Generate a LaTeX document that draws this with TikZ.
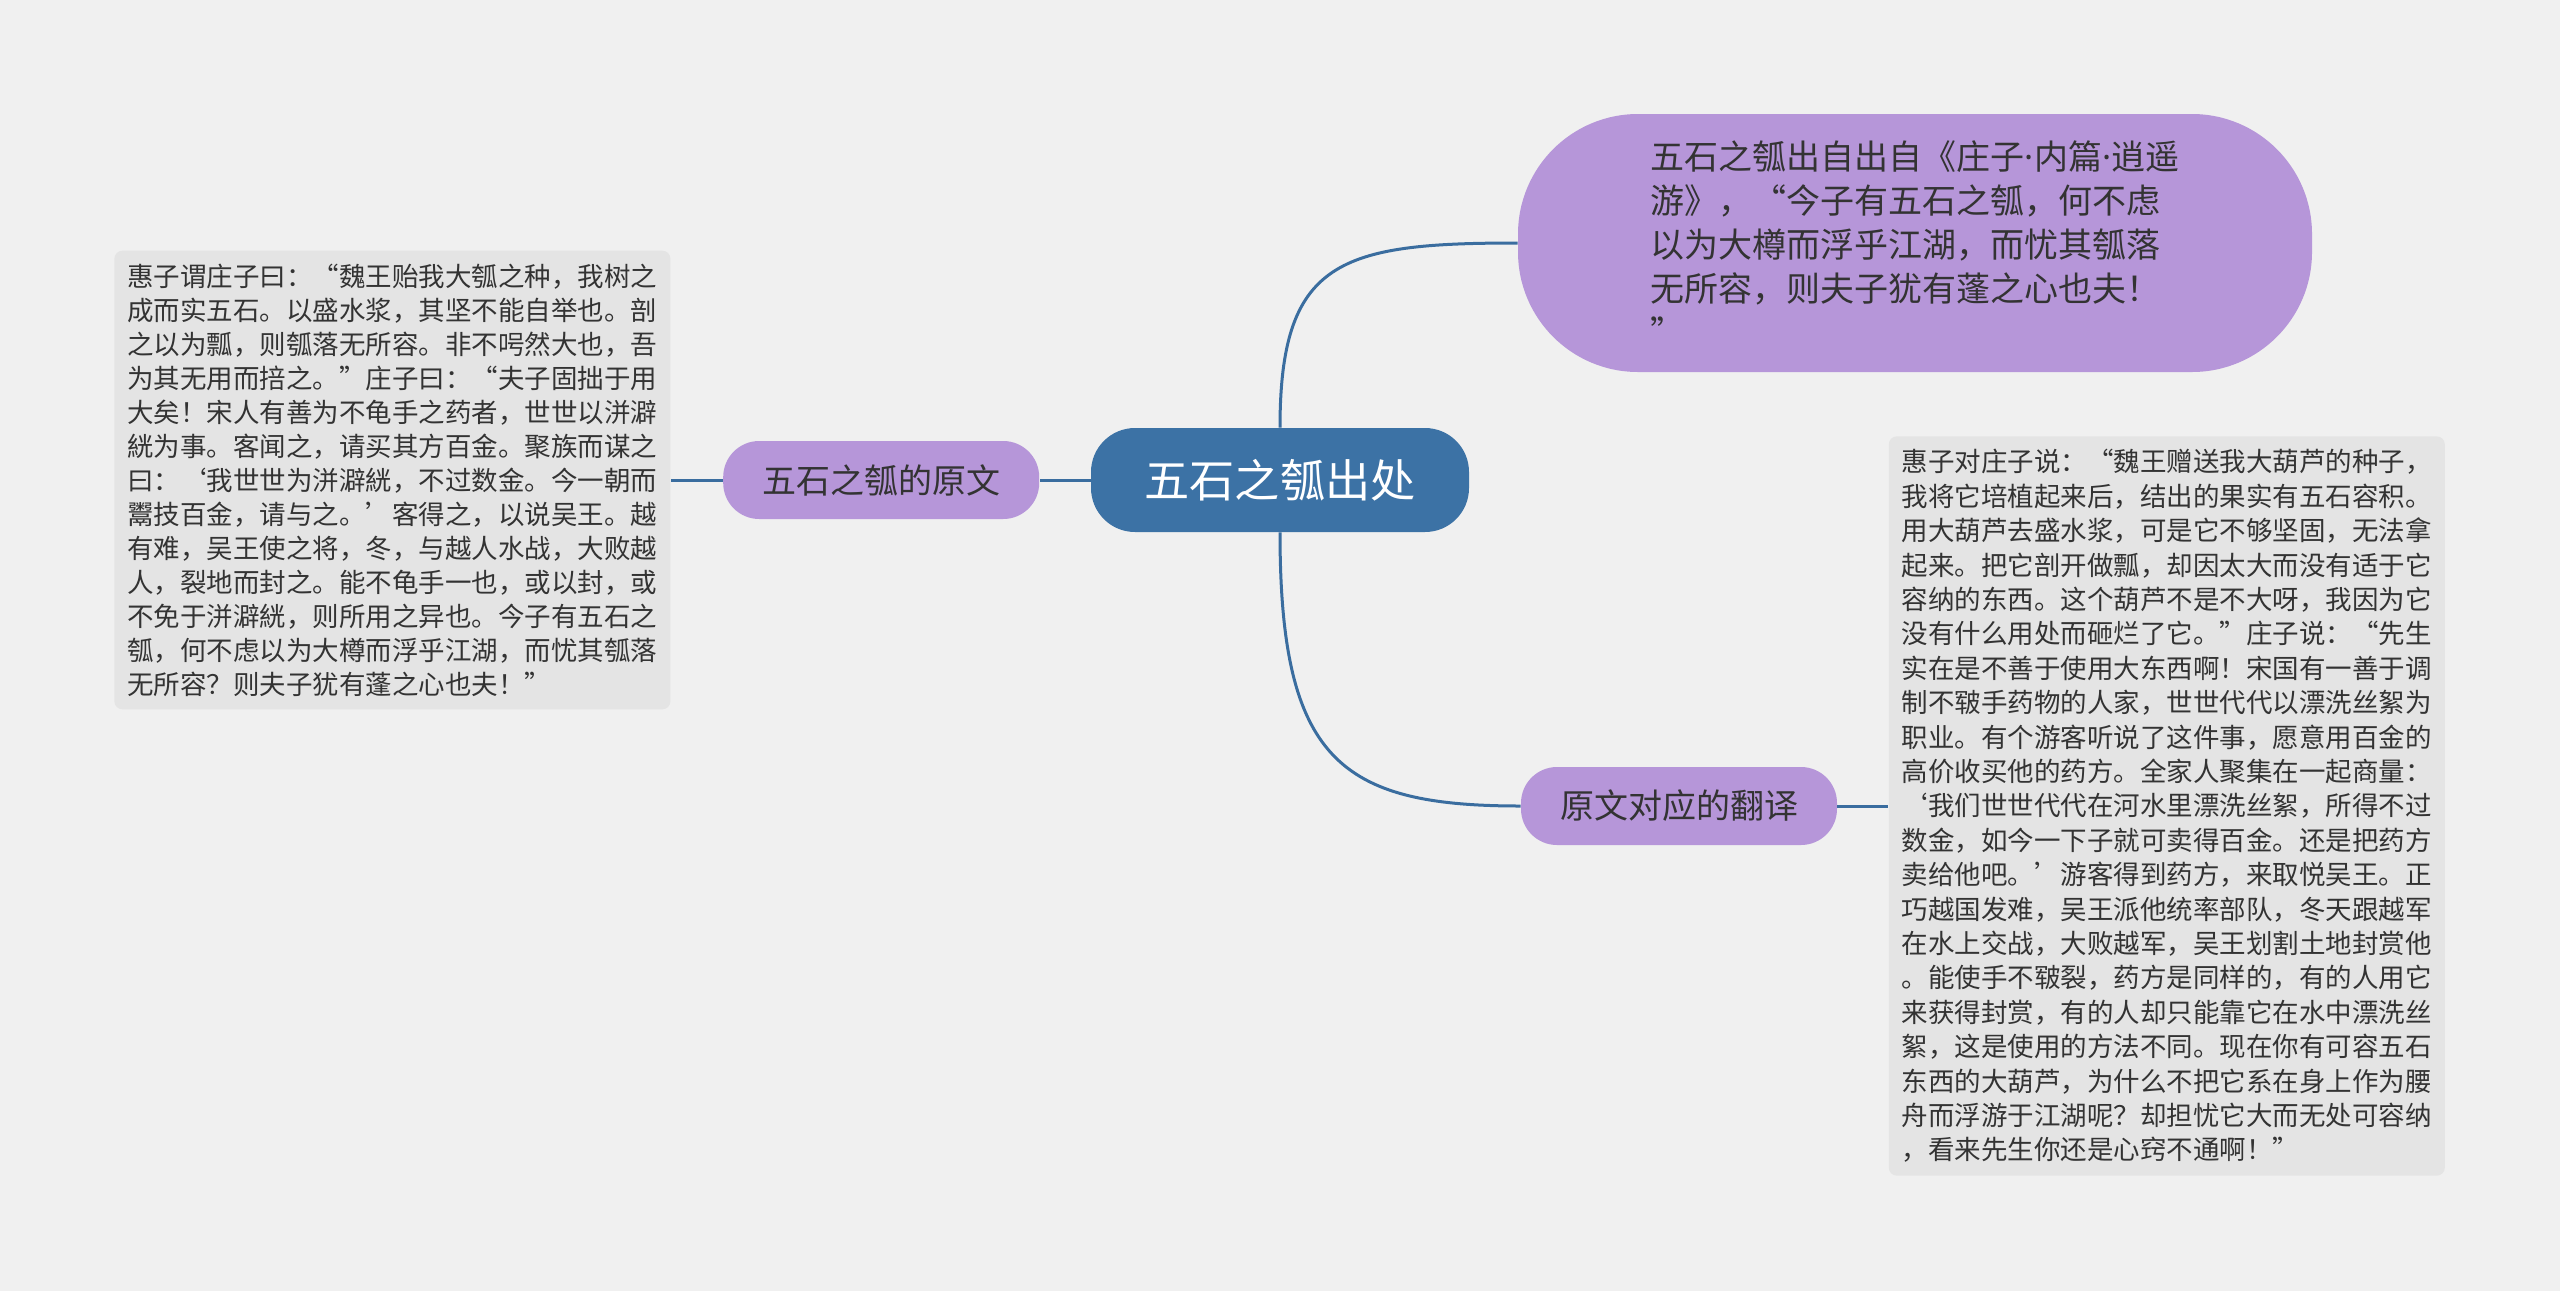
\documentclass[tikz,border=0pt]{standalone}
\usepackage{fontspec}
\newfontfamily\cjk{Noto Sans CJK SC}
\newfontfamily\latin{Noto Sans}
\usetikzlibrary{positioning}
\definecolor{bgpaper}{HTML}{F0F0F0}
\definecolor{rootblue}{HTML}{3C72A5}
\definecolor{topicpurple}{HTML}{B696D9}
\definecolor{notegray}{HTML}{E4E4E4}
\definecolor{linkblue}{HTML}{3A6D9F}
\definecolor{inktext}{HTML}{333333}
\newcommand{\mdot}{{\latin ·}}
\tikzset{link/.style={draw=linkblue, line width=1.5pt},
  root/.style={fill=rootblue, text=white, rounded corners=22pt, minimum width=189pt,
    minimum height=52pt, font=\cjk\fontsize{22.6}{28}\selectfont},
  topic/.style={fill=topicpurple, text=inktext, rounded corners=18pt, minimum width=158pt,
    minimum height=39pt, font=\cjk\fontsize{17}{22}\selectfont},
  notebox/.style={fill=notegray, text=inktext, rounded corners=4pt, inner sep=6.5pt,
    align=left, font=\cjk\fontsize{13.25}{17}\selectfont}}

\begin{document}
\begin{tikzpicture}[x=0.5pt, y=-0.5pt]
  \fill[bgpaper] (0,0) rectangle (2560,1291);
  \node[root] (root) at (1280,480) {五石之瓠出处};
  % source quote, upper right
  \node[topic, minimum width=397pt, minimum height=129pt, rounded corners=60pt, align=left]
    (src) at (1915,243) {五石之瓠出自出自《庄子\mdot 内篇\mdot 逍遥\\游》，“今子有五石之瓠，何不虑\\以为大樽而浮乎江湖，而忧其瓠落\\无所容，则夫子犹有蓬之心也夫！\\”};
  \node[topic, left=25.5pt of root] (orig) {五石之瓠的原文};
  \node[topic] (trans) at (1679,806) {原文对应的翻译};
  % original text
  \node[notebox, left=26pt of orig] (origtxt) {惠子谓庄子曰：“魏王贻我大瓠之种，我树之\\成而实五石。以盛水浆，其坚不能自举也。剖\\之以为瓢，则瓠落无所容。非不呺然大也，吾\\为其无用而掊之。”庄子曰：“夫子固拙于用\\大矣！宋人有善为不龟手之药者，世世以洴澼\\絖为事。客闻之，请买其方百金。聚族而谋之\\曰：‘我世世为洴澼絖，不过数金。今一朝而\\鬻技百金，请与之。’客得之，以说吴王。越\\有难，吴王使之将，冬，与越人水战，大败越\\人，裂地而封之。能不龟手一也，或以封，或\\不免于洴澼絖，则所用之异也。今子有五石之\\瓠，何不虑以为大樽而浮乎江湖，而忧其瓠落\\无所容？则夫子犹有蓬之心也夫！”};
  % translation
  \node[notebox, font=\cjk\fontsize{13.25}{17.2}\selectfont, right=25.5pt of trans] (transtxt) {惠子对庄子说：“魏王赠送我大葫芦的种子，\\我将它培植起来后，结出的果实有五石容积。\\用大葫芦去盛水浆，可是它不够坚固，无法拿\\起来。把它剖开做瓢，却因太大而没有适于它\\容纳的东西。这个葫芦不是不大呀，我因为它\\没有什么用处而砸烂了它。”庄子说：“先生\\实在是不善于使用大东西啊！宋国有一善于调\\制不皲手药物的人家，世世代代以漂洗丝絮为\\职业。有个游客听说了这件事，愿意用百金的\\高价收买他的药方。全家人聚集在一起商量：\\‘我们世世代代在河水里漂洗丝絮，所得不过\\数金，如今一下子就可卖得百金。还是把药方\\卖给他吧。’游客得到药方，来取悦吴王。正\\巧越国发难，吴王派他统率部队，冬天跟越军\\在水上交战，大败越军，吴王划割土地封赏他\\。能使手不皲裂，药方是同样的，有的人用它\\来获得封赏，有的人却只能靠它在水中漂洗丝\\絮，这是使用的方法不同。现在你有可容五石\\东西的大葫芦，为什么不把它系在身上作为腰\\舟而浮游于江湖呢？却担忧它大而无处可容纳\\，看来先生你还是心窍不通啊！”};
  \draw[link] (root.north) .. controls (1280,260) and (1340,243) .. (src.west);
  \draw[link] (root.south) .. controls (1280,760) and (1340,806) .. (trans.west);
  \draw[link] (root.west) -- (orig.east);
  \draw[link] (orig.west) -- (origtxt.east);
  \draw[link] (trans.east) -- (transtxt.west);
\end{tikzpicture}
\end{document}
